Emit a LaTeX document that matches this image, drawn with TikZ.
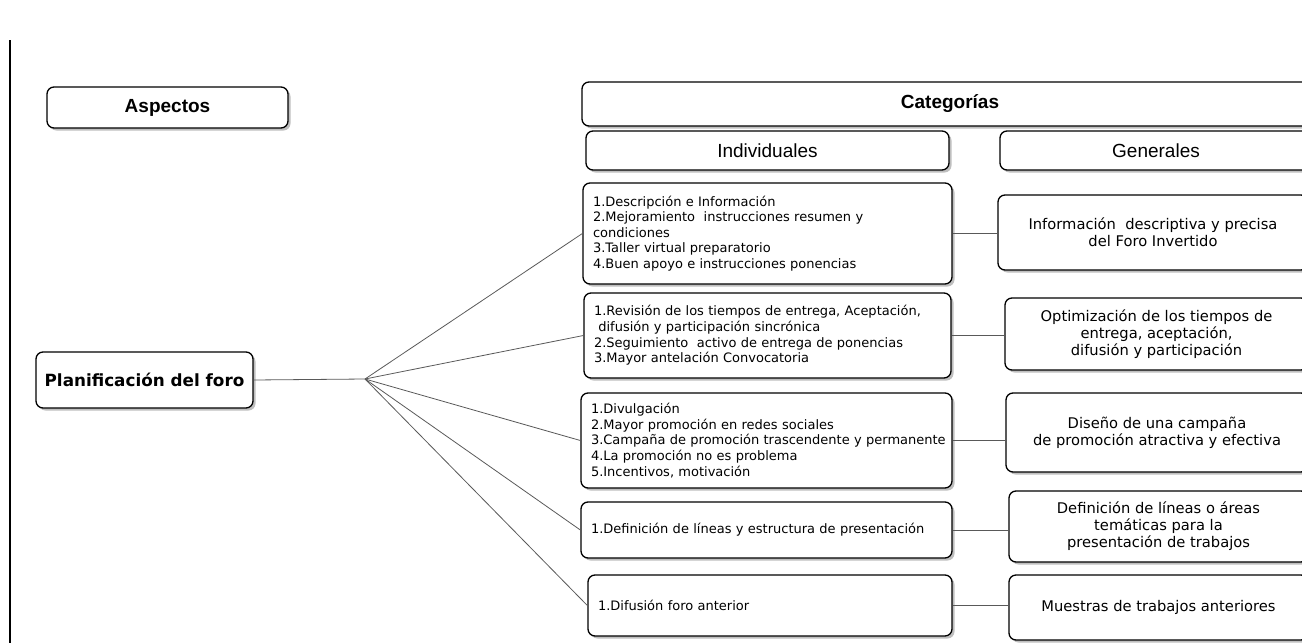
\documentclass[tikz,border=0pt]{standalone}
\usepackage{fontspec}
\setmainfont{DejaVu Sans}
\newfontfamily\arialf{Liberation Sans}
\usetikzlibrary{shadows}
\begin{document}
\begin{tikzpicture}[x=1pt,y=-1pt,
  box/.style={draw=black, line width=1.3pt, rounded corners=7pt, fill=white,
    drop shadow={opacity=1, fill=black!25, shadow xshift=2.5pt, shadow yshift=-2.5pt}},
  head/.style={box, font=\arialf\fontsize{19}{22}\selectfont},
  ind/.style={box, inner xsep=10pt, align=left, font=\fontsize{13}{15.6}\selectfont},
  gen/.style={box, align=center, font=\fontsize{14.7}{17}\selectfont},
  conn/.style={draw=black!65, line width=0.8pt}]
\useasboundingbox (0,0) rectangle (1302,643);
\clip (0,0) rectangle (1302,643);
\draw[line width=1.5pt] (10,40) -- (10,643);
% headers
\node[head, minimum width=241pt, minimum height=41pt] (asp) at (167.5,107.5) {\bfseries Aspectos};
\node[head, minimum width=736pt, minimum height=44pt] (cat) at (950,104) {\bfseries Categorías};
\node[head, minimum width=363pt, minimum height=39pt] (indh) at (767.5,150.5) {Individuales};
\node[head, minimum width=312pt, minimum height=39pt] (genh) at (1156,150.5) {Generales};
% root
\node[box, minimum width=217pt, minimum height=56pt, font=\bfseries\fontsize{16.8}{20}\selectfont] (plan) at (144.5,380) {Planificación del foro};
\coordinate (hub) at (365,379);
% individual boxes
\node[ind, text width=349pt, minimum height=101pt] (i1) at (767.5,233.5) {1.Descripción e Información\\2.Mejoramiento\ \ instrucciones resumen y\\condiciones\\3.Taller virtual preparatorio\\4.Buen apoyo e instrucciones ponencias};
\node[ind, text width=347pt, minimum height=85pt] (i2) at (767.5,335.5) {\mbox{1.Revisión de los tiempos de entrega, Aceptación,}\\\ difusión y participación sincrónica\\2.Seguimiento\ \ activo de entrega de ponencias\\3.Mayor antelación Convocatoria};
\node[ind, text width=351pt, minimum height=95pt] (i3) at (766.5,440.5) {1.Divulgación\\2.Mayor promoción en redes sociales\\\mbox{3.Campaña de promoción trascendente y permanente}\\4.La promoción no es problema\\5.Incentivos, motivación};
\node[ind, text width=351pt, minimum height=56pt] (i4) at (766.5,530) {\mbox{1.Definición de líneas y estructura de presentación}};
\node[ind, text width=344pt, minimum height=61pt] (i5) at (770,605.5) {1.Difusión foro anterior};
% general boxes
\node[gen, minimum width=310pt, minimum height=75pt] (g1) at (1153,232.5) {Información\ \ descriptiva y precisa\\del Foro Invertido};
\node[gen, minimum width=303pt, minimum height=72pt] (g2) at (1156.5,334) {Optimización de los tiempos de\\entrega, aceptación,\\difusión y participación};
\node[gen, minimum width=302pt, minimum height=79pt] (g3) at (1157,432.5) {Diseño de una campaña\\de promoción atractiva y efectiva};
\node[gen, minimum width=299pt, minimum height=71pt] (g4) at (1158.5,526.5) {Definición de líneas o áreas\\temáticas para la\\presentación de trabajos};
\node[gen, minimum width=299pt, minimum height=65pt] (g5) at (1158.5,607.5) {Muestras de trabajos anteriores};
% connectors
\draw[conn] (plan.east) -- (hub);
\draw[conn] (hub) -- (i1.west);
\draw[conn] (hub) -- (i2.west);
\draw[conn] (hub) -- (i3.west);
\draw[conn] (hub) -- (i4.west);
\draw[conn] (hub) -- (i5.west);
\draw[conn] (i1.east) -- (i1.east -| g1.west);
\draw[conn] (i2.east) -- (i2.east -| g2.west);
\draw[conn] (i3.east) -- (i3.east -| g3.west);
\draw[conn] (i4.east) -- (i4.east -| g4.west);
\draw[conn] (i5.east) -- (i5.east -| g5.west);
\end{tikzpicture}
\end{document}
